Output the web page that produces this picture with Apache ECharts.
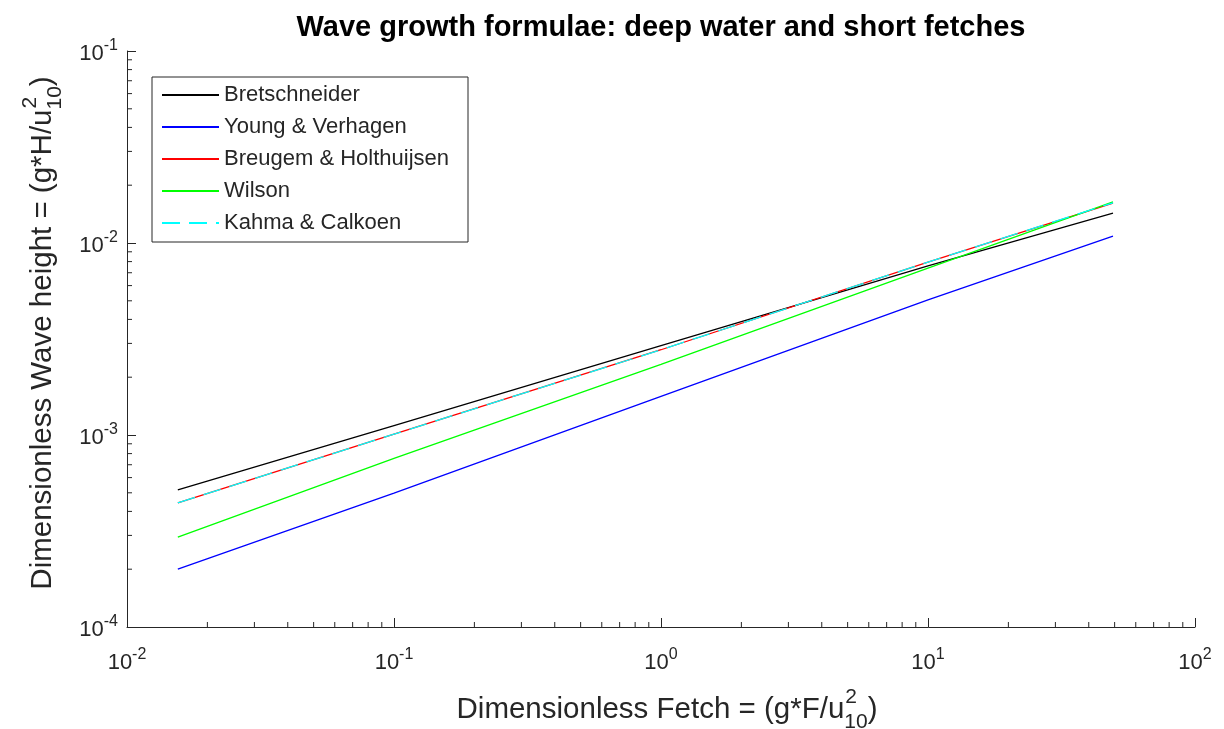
<!DOCTYPE html>
<html>
<head>
<meta charset="utf-8">
<title>Wave growth formulae</title>
<script src="https://cdn.jsdelivr.net/npm/echarts@6/dist/echarts.min.js"></script>
<style>
  html, body { margin: 0; padding: 0; background: #fff; }
  #chart { width: 1224px; height: 729px; }
</style>
</head>
<body>
<div id="chart"></div>
<script>
// Dimensionless fetch values at which each growth curve is sampled
const fetch = [0.0155, 0.1, 1, 10, 49.3];

// Dimensionless wave height for each formula
const bretschneider = [5.18e-4, 1.12e-3, 2.92e-3, 7.6e-3, 1.432e-2];
const youngVerhagen = [2.0e-4, 4.98e-4, 1.59e-3, 5.05e-3, 1.086e-2];
const breugemHolthuijsen = [4.43e-4, 1.01e-3, 2.78e-3, 7.95e-3, 1.615e-2];
const wilson = [2.94e-4, 7.55e-4, 2.33e-3, 7.4e-3, 1.637e-2];
const kahmaCalkoen = [4.43e-4, 1.01e-3, 2.78e-3, 7.95e-3, 1.62e-2];

const seriesNames = ['Bretschneider', 'Young & Verhagen', 'Breugem & Holthuijsen', 'Wilson', 'Kahma & Calkoen'];
const seriesValues = [bretschneider, youngVerhagen, breugemHolthuijsen, wilson, kahmaCalkoen];
const seriesColors = ['#000000', '#0000ff', '#ff0000', '#00ff00', '#00ffff'];

const titleText = 'Wave growth formulae: deep water and short fetches';

// Axis ranges (decades)
const X_MIN = 1e-2, X_MAX = 1e2;
const Y_MIN = 1e-4, Y_MAX = 1e-1;

const FONT = '"Liberation Sans", Arial, Helvetica, sans-serif';
const INK = '#262626';

const GRID = { left: 127, right: 29, top: 51, bottom: 102 };
const plotCx = GRID.left + (1224 - GRID.left - GRID.right) / 2;
const plotCy = GRID.top + (729 - GRID.top - GRID.bottom) / 2;

// Minor tick positions (2..9 x 10^k) inside each decade
function minorTicks(min, max) {
  const out = [];
  for (let e = Math.round(Math.log10(min)); e < Math.round(Math.log10(max)); e++) {
    for (let m = 2; m <= 9; m++) out.push(m * Math.pow(10, e));
  }
  return out;
}

// Text with a stacked superscript/subscript, laid out with canvas metrics
const measureCtx = document.createElement('canvas').getContext('2d');
function textWidth(t, size) {
  measureCtx.font = size + 'px ' + FONT;
  return measureCtx.measureText(t).width;
}
function mathLabel(pieces, size) {
  const small = Math.round(size * 0.7);
  const kids = [];
  let x = 0;
  const add = (t, px, py, s) => kids.push({
    type: 'text', x: px, y: py,
    style: { text: t, fontSize: s, fontFamily: FONT, fill: INK,
             align: 'left', verticalAlign: 'middle', textAlign: 'left', textVerticalAlign: 'middle' }
  });
  pieces.forEach(p => {
    if (p.t !== undefined) {
      add(p.t, x, 0, size);
      x += textWidth(p.t, size);
    } else {
      add(p.sup, x + 1, -0.45 * size, small);
      add(p.sub, x, 0.42 * size, small);
      x += Math.max(textWidth(p.sup, small) + 1, textWidth(p.sub, small));
    }
  });
  kids.forEach(k => { k.x -= x / 2; });
  return kids;
}

const xName = mathLabel([{ t: 'Dimensionless Fetch = (g*F/u' }, { sup: '2', sub: '10' }, { t: ')' }], 29.5);
const yName = mathLabel([{ t: 'Dimensionless Wave height = (g*H/u' }, { sup: '2', sub: '10' }, { t: ')' }], 29.5);

function powLabel(v) {
  return '{b|10}{s|' + Math.round(Math.log10(v)) + '}';
}
const tickRich = {
  b: { fontSize: 22, fontFamily: FONT, color: INK, verticalAlign: 'bottom' },
  s: { fontSize: 16, fontFamily: FONT, color: INK, verticalAlign: 'bottom', padding: [0, 0, 11, 0] }
};

const lineSeries = seriesNames.map((name, i) => ({
  name: name,
  type: 'line',
  data: fetch.map((f, j) => [f, seriesValues[i][j]]),
  symbol: 'none',
  smooth: false,
  z: 3 + i,
  lineStyle: {
    color: seriesColors[i],
    width: 1.3,
    type: i === 4 ? [18, 9] : 'solid'
  },
  itemStyle: { color: seriesColors[i] },
  emphasis: { disabled: true }
}));

const minorX = {
  type: 'custom',
  silent: true,
  clip: false,
  z: 10,
  data: minorTicks(X_MIN, X_MAX).map(v => [v, Y_MIN]),
  renderItem: (params, api) => {
    const p = api.coord([api.value(0), Y_MIN]);
    return { type: 'line', shape: { x1: p[0], y1: p[1], x2: p[0], y2: p[1] - 5 },
             style: { stroke: INK, lineWidth: 1 } };
  }
};
const minorY = {
  type: 'custom',
  silent: true,
  clip: false,
  z: 10,
  data: minorTicks(Y_MIN, Y_MAX).map(v => [X_MIN, v]),
  renderItem: (params, api) => {
    const p = api.coord([X_MIN, api.value(1)]);
    return { type: 'line', shape: { x1: p[0], y1: p[1], x2: p[0] + 5, y2: p[1] },
             style: { stroke: INK, lineWidth: 1 } };
  }
};

const chart = echarts.init(document.getElementById('chart'), null, { renderer: 'canvas' });
chart.setOption({
  animation: false,
  backgroundColor: '#ffffff',
  grid: { left: GRID.left, right: GRID.right, top: GRID.top, bottom: GRID.bottom, outerBoundsMode: 'none' },
  xAxis: {
    type: 'log', logBase: 10, min: X_MIN, max: X_MAX, splitNumber: 4,
    axisLine: { show: true, lineStyle: { color: INK, width: 1 } },
    axisTick: { show: true, inside: true, length: 9, lineStyle: { color: INK } },
    minorTick: { show: false },
    splitLine: { show: false },
    axisLabel: { formatter: powLabel, rich: tickRich, margin: 20, showMinLabel: true, showMaxLabel: true, hideOverlap: false }
  },
  yAxis: {
    type: 'log', logBase: 10, min: Y_MIN, max: Y_MAX, splitNumber: 3,
    axisLine: { show: true, lineStyle: { color: INK, width: 1 } },
    axisTick: { show: true, inside: true, length: 9, lineStyle: { color: INK } },
    minorTick: { show: false },
    splitLine: { show: false },
    axisLabel: { formatter: powLabel, rich: tickRich, margin: 9, showMinLabel: true, showMaxLabel: true, hideOverlap: false }
  },
  legend: {
    show: true,
    data: seriesNames,
    orient: 'vertical',
    left: 152,
    top: 77,
    padding: [6, 19, 7, 9],
    itemGap: 8,
    itemWidth: 57,
    itemHeight: 14,
    itemTextGap: 5,
    borderColor: INK,
    borderWidth: 1,
    backgroundColor: '#ffffff',
    selectedMode: false,
    // line-only key: the marker circle drawn by line series is hidden
    itemStyle: { opacity: 0 },
    textStyle: { fontSize: 22, fontFamily: FONT, color: INK, lineHeight: 24 }
  },
  graphic: [
    {
      type: 'text', x: plotCx, y: 28, z: 100,
      style: { text: titleText, fontSize: 29, fontWeight: 'bold', fontFamily: FONT, fill: '#000',
               align: 'center', verticalAlign: 'middle', textAlign: 'center', textVerticalAlign: 'middle' }
    },
    { type: 'group', x: plotCx + 6, y: 710, children: xName },
    { type: 'group', x: 43, y: plotCy - 6, rotation: Math.PI / 2, children: yName }
  ],
  series: lineSeries.concat([minorX, minorY])
});
</script>
</body>
</html>
